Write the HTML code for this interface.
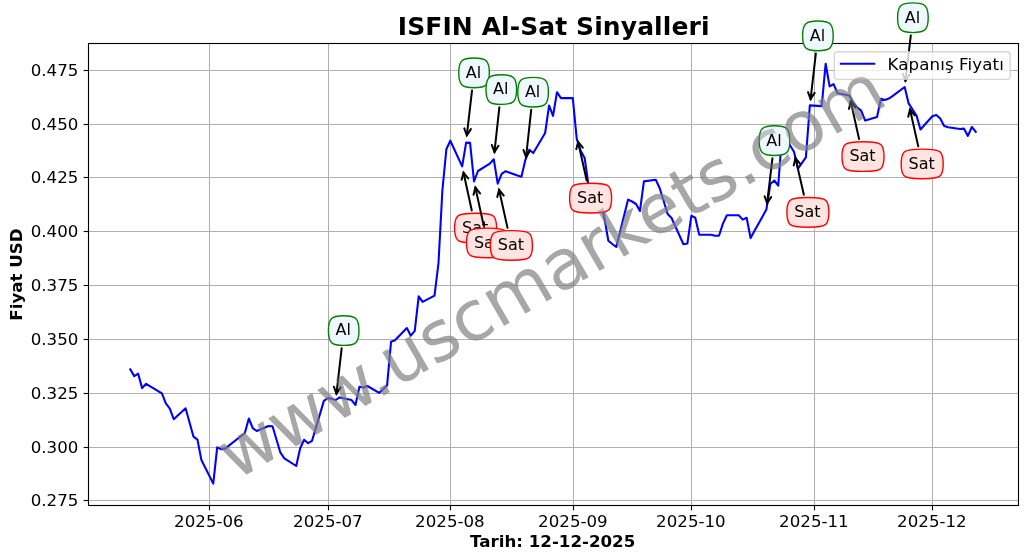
<!DOCTYPE html>
<html><head><meta charset="utf-8"><title>ISFIN Al-Sat Sinyalleri</title>
<style>
html,body{margin:0;padding:0;background:#fff;}
svg{display:block;font-family:"DejaVu Sans","Liberation Sans",sans-serif;}

</style></head><body>
<svg width="1028" height="560" viewBox="0 0 1028 560">
<rect width="1028" height="560" fill="#fff"/>
<defs><clipPath id="ax"><rect x="88.5" y="43.5" width="930" height="462"/></clipPath></defs>

<g stroke="#b0b0b0" stroke-width="1" fill="none">
<path d="M209.50,43.5V505.5"/>
<path d="M328.50,43.5V505.5"/>
<path d="M450.50,43.5V505.5"/>
<path d="M573.50,43.5V505.5"/>
<path d="M691.50,43.5V505.5"/>
<path d="M814.50,43.5V505.5"/>
<path d="M932.50,43.5V505.5"/>
<path d="M88.5,500.50H1018.5"/>
<path d="M88.5,447.50H1018.5"/>
<path d="M88.5,393.50H1018.5"/>
<path d="M88.5,339.50H1018.5"/>
<path d="M88.5,285.50H1018.5"/>
<path d="M88.5,231.50H1018.5"/>
<path d="M88.5,177.50H1018.5"/>
<path d="M88.5,124.50H1018.5"/>
<path d="M88.5,70.50H1018.5"/>
</g>
<polyline clip-path="url(#ax)" points="130.28,369.4 134.23,376.1 138.18,373.7 142.13,388.1 146.08,383.8 161.89,393.4 165.84,403.4 169.79,408.7 173.74,419.2 185.59,408.3 189.55,422.5 193.50,436.7 197.45,439.6 201.40,460.0 213.25,483.6 217.20,447.4 221.15,449.2 225.10,448.6 244.86,433.0 248.81,418.5 252.76,428.1 256.71,431.0 268.56,426.0 272.52,426.2 276.47,439.5 280.42,452.7 284.37,458.3 296.22,466.0 300.17,448.3 304.12,439.8 308.08,443.2 312.03,440.8 323.88,400.9 327.83,398.0 331.78,399.0 335.73,400.0 339.68,397.4 351.54,400.1 355.49,405.0 359.44,386.8 363.39,387.5 367.34,386.0 379.19,392.9 387.10,385.4 391.05,341.7 395.00,340.3 406.85,328.0 410.80,335.7 414.75,330.8 418.70,296.3 422.65,301.9 434.51,295.7 438.46,263.4 442.41,190.0 446.36,149.3 450.31,140.7 462.16,166.4 466.12,142.6 470.07,142.9 474.02,181.4 477.97,171.0 489.82,163.6 493.77,159.3 497.72,183.6 501.67,173.8 505.62,171.2 517.48,175.5 521.43,176.8 525.38,159.8 529.33,149.7 533.28,153.0 545.13,133.0 549.09,105.5 553.04,115.9 556.99,92.2 560.94,98.1 572.79,98.1 576.74,138.9 580.69,150.7 584.64,158.0 588.60,186.0 600.45,200.0 604.40,218.0 608.35,240.7 612.30,244.0 616.25,247.0 628.11,199.6 632.06,201.5 636.01,204.0 639.96,211.0 643.91,181.4 655.76,179.7 659.71,188.2 663.66,201.0 667.62,214.0 671.57,218.0 683.42,244.3 687.37,243.6 691.32,215.8 695.27,217.8 699.22,234.7 711.08,234.7 715.03,235.8 718.98,235.8 722.93,223.6 726.88,215.3 738.73,215.3 742.68,219.6 746.64,217.8 750.59,238.0 754.54,230.7 766.39,209.5 770.34,184.0 774.29,180.5 778.24,185.7 782.19,132.0 794.05,152.0 798.00,168.6 805.90,157.4 809.85,105.4 821.70,106.1 825.66,63.7 829.61,86.4 833.56,84.1 837.51,93.2 849.36,95.5 853.31,102.4 857.26,107.7 861.21,110.7 865.17,120.6 877.02,117.0 880.97,98.7 884.92,100.0 888.87,98.6 892.82,95.9 904.68,87.0 908.63,103.4 912.58,109.5 916.53,115.6 920.48,129.5 932.33,116.2 936.28,115.0 940.24,118.5 944.19,126.1 948.14,127.2 959.99,129.0 963.94,128.6 967.89,135.9 971.84,127.0 975.79,131.9" fill="none" stroke="#0000ff" stroke-width="2.08" stroke-linejoin="round" stroke-linecap="square"/>
<text x="562.86" y="292.00" transform="rotate(-30 562.86 292.00)" font-size="69.3" text-anchor="middle" fill="#808080" fill-opacity="0.45">www.uscmarkets.com</text>
<g stroke="#000" stroke-width="1.11" fill="none">
<path d="M209.50,505.5v4.86"/>
<path d="M328.50,505.5v4.86"/>
<path d="M450.50,505.5v4.86"/>
<path d="M573.50,505.5v4.86"/>
<path d="M691.50,505.5v4.86"/>
<path d="M814.50,505.5v4.86"/>
<path d="M932.50,505.5v4.86"/>
<path d="M88.5,500.50h-4.86"/>
<path d="M88.5,447.50h-4.86"/>
<path d="M88.5,393.50h-4.86"/>
<path d="M88.5,339.50h-4.86"/>
<path d="M88.5,285.50h-4.86"/>
<path d="M88.5,231.50h-4.86"/>
<path d="M88.5,177.50h-4.86"/>
<path d="M88.5,124.50h-4.86"/>
<path d="M88.5,70.50h-4.86"/>
<rect x="88.5" y="43.5" width="930" height="462"/>
</g>
<g font-size="16.67">
<text x="208.90" y="527.3" text-anchor="middle">2025-06</text>
<text x="327.90" y="527.3" text-anchor="middle">2025-07</text>
<text x="449.90" y="527.3" text-anchor="middle">2025-08</text>
<text x="572.90" y="527.3" text-anchor="middle">2025-09</text>
<text x="690.90" y="527.3" text-anchor="middle">2025-10</text>
<text x="813.90" y="527.3" text-anchor="middle">2025-11</text>
<text x="931.90" y="527.3" text-anchor="middle">2025-12</text>
<text x="78.4" y="505.70" text-anchor="end">0.275</text>
<text x="78.4" y="452.70" text-anchor="end">0.300</text>
<text x="78.4" y="398.70" text-anchor="end">0.325</text>
<text x="78.4" y="344.70" text-anchor="end">0.350</text>
<text x="78.4" y="290.70" text-anchor="end">0.375</text>
<text x="78.4" y="236.70" text-anchor="end">0.400</text>
<text x="78.4" y="182.70" text-anchor="end">0.425</text>
<text x="78.4" y="129.70" text-anchor="end">0.450</text>
<text x="78.4" y="75.70" text-anchor="end">0.475</text>
</g>
<text x="553.7" y="35.1" font-size="25" font-weight="bold" text-anchor="middle" letter-spacing="0.09">ISFIN Al-Sat Sinyalleri</text>
<text x="552.7" y="547" font-size="16.67" font-weight="bold" text-anchor="middle">Tarih: 12-12-2025</text>
<text x="21.5" y="274.5" transform="rotate(-90 21.5 274.5)" font-size="16.67" font-weight="bold" text-anchor="middle">Fiyat USD</text>
<g><g stroke="#000" stroke-width="2.0" fill="none" stroke-linecap="round" stroke-linejoin="miter"><path d="M341.68,348.18L336.45,393.74" /><path d="M333.90,386.73L336.45,393.74L340.52,387.49" /></g>
<path d="M331.40,318.70C335.40,314.70 352.00,314.70 356.00,318.70C360.00,322.70 360.00,338.40 356.00,342.40C352.00,346.40 335.40,346.40 331.40,342.40C327.40,338.40 327.40,322.70 331.40,318.70Z" fill="#f0f8ff" fill-opacity="1" stroke="#008000" stroke-width="1.39"/>
<text x="343.20" y="335.45" font-size="16.0" text-anchor="middle">Al</text></g>
<g><g stroke="#000" stroke-width="2.0" fill="none" stroke-linecap="round" stroke-linejoin="miter"><path d="M472.02,90.48L466.84,135.34" /><path d="M464.29,128.33L466.84,135.34L470.91,129.10" /></g>
<path d="M461.75,61.00C465.75,57.00 482.35,57.00 486.35,61.00C490.35,65.00 490.35,80.70 486.35,84.70C482.35,88.70 465.75,88.70 461.75,84.70C457.75,80.70 457.75,65.00 461.75,61.00Z" fill="#f0f8ff" fill-opacity="1" stroke="#008000" stroke-width="1.39"/>
<text x="473.55" y="77.75" font-size="16.0" text-anchor="middle">Al</text></g>
<g><g stroke="#000" stroke-width="2.0" fill="none" stroke-linecap="round" stroke-linejoin="miter"><path d="M471.77,210.46L463.51,172.56" /><path d="M468.18,178.36L463.51,172.56L461.67,179.78" /></g>
<path d="M457.60,216.20C461.60,212.20 489.60,212.20 493.60,216.20C497.60,220.20 497.60,235.90 493.60,239.90C489.60,243.90 461.60,243.90 457.60,239.90C453.60,235.90 453.60,220.20 457.60,216.20Z" fill="#ffe4e1" fill-opacity="1" stroke="#ff0000" stroke-width="1.39"/>
<text x="475.10" y="232.95" font-size="16.0" text-anchor="middle">Sat</text></g>
<g><g stroke="#000" stroke-width="2.0" fill="none" stroke-linecap="round" stroke-linejoin="miter"><path d="M483.65,225.36L475.37,187.55" /><path d="M480.05,193.36L475.37,187.55L473.54,194.78" /></g>
<path d="M469.50,231.10C473.50,227.10 501.50,227.10 505.50,231.10C509.50,235.10 509.50,250.80 505.50,254.80C501.50,258.80 473.50,258.80 469.50,254.80C465.50,250.80 465.50,235.10 469.50,231.10Z" fill="#ffe4e1" fill-opacity="1" stroke="#ff0000" stroke-width="1.39"/>
<text x="487.00" y="247.85" font-size="16.0" text-anchor="middle">Sat</text></g>
<g><g stroke="#000" stroke-width="2.0" fill="none" stroke-linecap="round" stroke-linejoin="miter"><path d="M499.37,107.18L494.46,152.04" /><path d="M491.87,145.04L494.46,152.04L498.49,145.77" /></g>
<path d="M489.00,77.70C493.00,73.70 509.60,73.70 513.60,77.70C517.60,81.70 517.60,97.40 513.60,101.40C509.60,105.40 493.00,105.40 489.00,101.40C485.00,97.40 485.00,81.70 489.00,77.70Z" fill="#f0f8ff" fill-opacity="1" stroke="#008000" stroke-width="1.39"/>
<text x="500.80" y="94.45" font-size="16.0" text-anchor="middle">Al</text></g>
<g><g stroke="#000" stroke-width="2.0" fill="none" stroke-linecap="round" stroke-linejoin="miter"><path d="M507.51,227.87L499.08,189.75" /><path d="M503.77,195.55L499.08,189.75L497.27,196.98" /></g>
<path d="M493.40,233.60C497.40,229.60 525.40,229.60 529.40,233.60C533.40,237.60 533.40,253.30 529.40,257.30C525.40,261.30 497.40,261.30 493.40,257.30C489.40,253.30 489.40,237.60 493.40,233.60Z" fill="#ffe4e1" fill-opacity="1" stroke="#ff0000" stroke-width="1.39"/>
<text x="510.90" y="250.35" font-size="16.0" text-anchor="middle">Sat</text></g>
<g><g stroke="#000" stroke-width="2.0" fill="none" stroke-linecap="round" stroke-linejoin="miter"><path d="M531.19,109.83L526.06,157.04" /><path d="M523.47,150.05L526.06,157.04L530.09,150.77" /></g>
<path d="M520.80,80.35C524.80,76.35 541.40,76.35 545.40,80.35C549.40,84.35 549.40,100.05 545.40,104.05C541.40,108.05 524.80,108.05 520.80,104.05C516.80,100.05 516.80,84.35 520.80,80.35Z" fill="#f0f8ff" fill-opacity="1" stroke="#008000" stroke-width="1.39"/>
<text x="532.60" y="97.10" font-size="16.0" text-anchor="middle">Al</text></g>
<g><g stroke="#000" stroke-width="2.0" fill="none" stroke-linecap="round" stroke-linejoin="miter"><path d="M586.69,180.57L578.11,141.95" /><path d="M582.81,147.74L578.11,141.95L576.31,149.18" /></g>
<path d="M572.60,186.30C576.60,182.30 604.60,182.30 608.60,186.30C612.60,190.30 612.60,206.00 608.60,210.00C604.60,214.00 576.60,214.00 572.60,210.00C568.60,206.00 568.60,190.30 572.60,186.30Z" fill="#ffe4e1" fill-opacity="1" stroke="#ff0000" stroke-width="1.39"/>
<text x="590.10" y="203.05" font-size="16.0" text-anchor="middle">Sat</text></g>
<g><g stroke="#000" stroke-width="2.0" fill="none" stroke-linecap="round" stroke-linejoin="miter"><path d="M772.42,158.28L767.13,203.24" /><path d="M764.60,196.23L767.13,203.24L771.22,197.01" /></g>
<path d="M762.20,128.80C766.20,124.80 782.80,124.80 786.80,128.80C790.80,132.80 790.80,148.50 786.80,152.50C782.80,156.50 766.20,156.50 762.20,152.50C758.20,148.50 758.20,132.80 762.20,128.80Z" fill="#f0f8ff" fill-opacity="1" stroke="#008000" stroke-width="1.39"/>
<text x="774.00" y="145.55" font-size="16.0" text-anchor="middle">Al</text></g>
<g><g stroke="#000" stroke-width="2.0" fill="none" stroke-linecap="round" stroke-linejoin="miter"><path d="M803.87,194.77L795.46,158.14" /><path d="M800.20,163.90L795.46,158.14L793.70,165.39" /></g>
<path d="M789.90,200.50C793.90,196.50 821.90,196.50 825.90,200.50C829.90,204.50 829.90,220.20 825.90,224.20C821.90,228.20 793.90,228.20 789.90,224.20C785.90,220.20 785.90,204.50 789.90,200.50Z" fill="#ffe4e1" fill-opacity="1" stroke="#ff0000" stroke-width="1.39"/>
<text x="807.40" y="217.25" font-size="16.0" text-anchor="middle">Sat</text></g>
<g><g stroke="#000" stroke-width="2.0" fill="none" stroke-linecap="round" stroke-linejoin="miter"><path d="M815.86,53.48L810.58,99.14" /><path d="M808.03,92.13L810.58,99.14L814.65,92.90" /></g>
<path d="M805.60,24.00C809.60,20.00 826.20,20.00 830.20,24.00C834.20,28.00 834.20,43.70 830.20,47.70C826.20,51.70 809.60,51.70 805.60,47.70C801.60,43.70 801.60,28.00 805.60,24.00Z" fill="#f0f8ff" fill-opacity="1" stroke="#008000" stroke-width="1.39"/>
<text x="817.40" y="40.75" font-size="16.0" text-anchor="middle">Al</text></g>
<g><g stroke="#000" stroke-width="2.0" fill="none" stroke-linecap="round" stroke-linejoin="miter"><path d="M859.07,138.97L850.74,101.65" /><path d="M855.44,107.43L850.74,101.65L848.94,108.88" /></g>
<path d="M845.00,144.70C849.00,140.70 877.00,140.70 881.00,144.70C885.00,148.70 885.00,164.40 881.00,168.40C877.00,172.40 849.00,172.40 845.00,168.40C841.00,164.40 841.00,148.70 845.00,144.70Z" fill="#ffe4e1" fill-opacity="1" stroke="#ff0000" stroke-width="1.39"/>
<text x="862.50" y="161.45" font-size="16.0" text-anchor="middle">Sat</text></g>
<g><g stroke="#000" stroke-width="2.0" fill="none" stroke-linecap="round" stroke-linejoin="miter"><path d="M910.81,35.38L905.42,80.74" /><path d="M902.90,73.73L905.42,80.74L909.51,74.51" /></g>
<path d="M900.60,5.90C904.60,1.90 921.20,1.90 925.20,5.90C929.20,9.90 929.20,25.60 925.20,29.60C921.20,33.60 904.60,33.60 900.60,29.60C896.60,25.60 896.60,9.90 900.60,5.90Z" fill="#f0f8ff" fill-opacity="1" stroke="#008000" stroke-width="1.39"/>
<text x="912.40" y="22.65" font-size="16.0" text-anchor="middle">Al</text></g>
<g><g stroke="#000" stroke-width="2.0" fill="none" stroke-linecap="round" stroke-linejoin="miter"><path d="M918.26,146.37L910.01,109.55" /><path d="M914.71,115.33L910.01,109.55L908.21,116.78" /></g>
<path d="M904.20,152.10C908.20,148.10 936.20,148.10 940.20,152.10C944.20,156.10 944.20,171.80 940.20,175.80C936.20,179.80 908.20,179.80 904.20,175.80C900.20,171.80 900.20,156.10 904.20,152.10Z" fill="#ffe4e1" fill-opacity="1" stroke="#ff0000" stroke-width="1.39"/>
<text x="921.70" y="168.85" font-size="16.0" text-anchor="middle">Sat</text></g>
<rect x="834.3" y="51.8" width="175.9" height="27.6" rx="3.3" ry="3.3" fill="#fff" fill-opacity="0.8" stroke="#cccccc" stroke-opacity="0.8" stroke-width="1.39"/>
<path d="M840.9,63.8H874.2" stroke="#0000ff" stroke-width="2.08" fill="none" stroke-linecap="square"/>
<text x="887.5" y="69.7" font-size="16.67" letter-spacing="0.1">Kapanış Fiyatı</text>
<text x="562.86" y="292.00" transform="rotate(-30 562.86 292.00)" font-size="69.3" text-anchor="middle" fill="#808080" fill-opacity="0.45">www.uscmarkets.com</text>
</svg></body></html>
